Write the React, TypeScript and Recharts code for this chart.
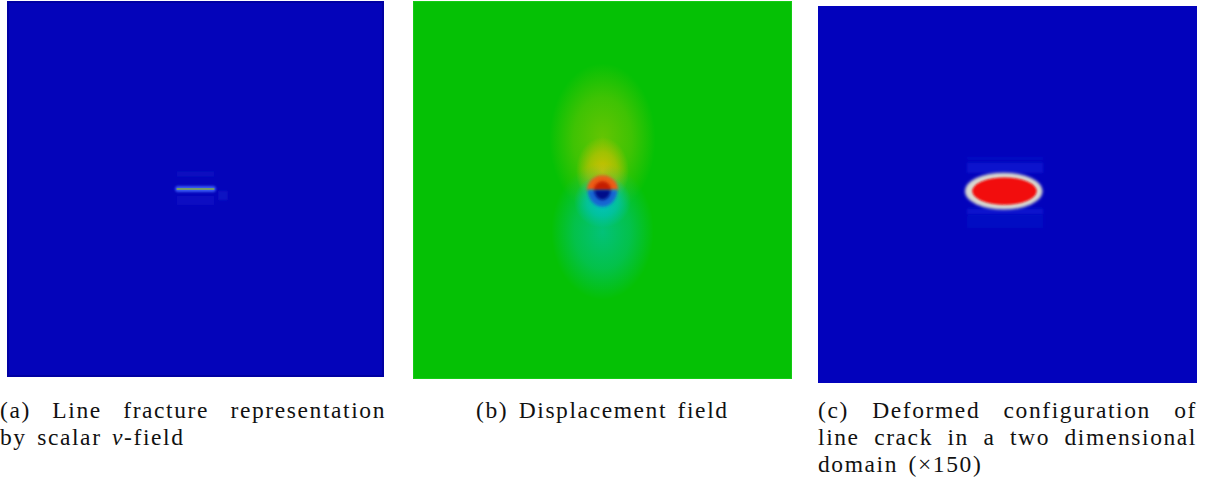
import React from 'react';
import { ComposedChart, XAxis, YAxis, ReferenceArea, ReferenceLine } from 'recharts';

// ---------- field data (domain is [-1, 1] x [-1, 1], crack centred at the origin) ----------

// (a) scalar phase field v around the line crack
const vBackground = 0;
const vCrack = { x1: -0.1, x2: 0.1, y: 0, core: 0.62, halo: 0.3 };
const vBands = [
  { x1: -0.1, x2: 0.1, y1: 0.065, y2: 0.095, v: 0.05 },
  { x1: -0.1, x2: 0.1, y1: -0.035, y2: -0.085, v: 0.06 },
  { x1: 0.12, x2: 0.17, y1: -0.01, y2: -0.06, v: 0.08 },
];

// (b) displacement field: smooth lobes above/below the crack and the two crack-face caps
const uBackground = 0.5;
const uLobes = [
  { cx: 0, cy: 0.4, rx: 0.52, ry: 0.64, v: 0.56, a: 0.9 },
  { cx: 0, cy: 0.27, rx: 0.28, ry: 0.4, v: 0.64, a: 0.85 },
  { cx: 0, cy: 0.1, rx: 0.14, ry: 0.18, v: 0.77, a: 0.95 },
  { cx: 0, cy: -0.4, rx: 0.5, ry: 0.62, v: 0.42, a: 0.9 },
  { cx: 0, cy: -0.22, rx: 0.27, ry: 0.36, v: 0.35, a: 0.85 },
  { cx: 0, cy: -0.06, rx: 0.15, ry: 0.14, v: 0.28, a: 0.95 },
];
const uCaps = [
  { side: 'top', rx: 0.082, ry: 0.078, v: 0.9, core: 1.0 },
  { side: 'bottom', rx: 0.078, ry: 0.088, v: 0.13, core: 0.0 },
];

// (c) deformed configuration, opening magnified x150
const dBackground = 0;
const dBands = [
  { x1: -0.213, x2: 0.188, y1: 0.186, y2: 0.198, v: 0.08 },
  { x1: -0.213, x2: 0.188, y1: 0.115, y2: 0.17, v: 0.12 },
  { x1: -0.213, x2: 0.188, y1: -0.075, y2: -0.105, v: 0.12 },
  { x1: -0.213, x2: 0.188, y1: -0.11, y2: -0.177, v: 0.05 },
];
const dOpening = [
  { cx: -0.02, cy: 0.018, rx: 0.205, ry: 0.098, v: 0.55 },
  { cx: -0.016, cy: 0.018, rx: 0.17, ry: 0.072, v: 1.0 },
];

// sub-figure captions (text between underscores is set in italics)
const captionA = ['(a) Line fracture representation', 'by scalar _v_-field'];
const captionB = ['(b) Displacement field'];
const captionC = ['(c) Deformed configuration of', 'line crack in a two dimensional', 'domain (\u00d7150)'];

// ---------- colour maps ----------
type Stop = [number, string];
const vMap: Stop[] = [[0, '#0404ba'], [0.3, '#3858f4'], [0.62, '#86b040'], [1, '#d8d020']];
const uMap: Stop[] = [
  [0, '#000a8a'], [0.13, '#1466d2'], [0.28, '#00c2cc'], [0.5, '#05c105'],
  [0.76, '#d6c800'], [0.9, '#ec5c14'], [1, '#c41c06'],
];
const dMap: Stop[] = [[0, '#0202bc'], [0.2, '#1838ec'], [0.55, '#d8d8d0'], [1, '#f20a0a']];

const rgb = (h: string) => [1, 3, 5].map((i) => parseInt(h.slice(i, i + 2), 16));
function colormap(stops: Stop[], value: number): string {
  const t = Math.max(0, Math.min(1, value));
  for (let i = 1; i < stops.length; i++) {
    if (t <= stops[i][0]) {
      const [t0, c0] = stops[i - 1];
      const [t1, c1] = stops[i];
      const f = (t - t0) / (t1 - t0 || 1);
      const a = rgb(c0);
      const b = rgb(c1);
      return `rgb(${a.map((x, k) => Math.round(x + (b[k] - x) * f)).join(',')})`;
    }
  }
  return stops[stops.length - 1][1];
}

// ---------- shapes ----------
const ellipseShape = (fill: string, filter?: string) => (p: any) => (
  <ellipse
    cx={p.x + p.width / 2}
    cy={p.y + p.height / 2}
    rx={p.width / 2}
    ry={p.height / 2}
    fill={fill}
    filter={filter}
  />
);

const halfShape = (side: string, fill: string, filter?: string) => (p: any) => {
  const r = p.width / 2;
  const d =
    side === 'top'
      ? `M${p.x},${p.y + p.height} A${r},${p.height} 0 0 1 ${p.x + p.width},${p.y + p.height} Z`
      : `M${p.x},${p.y} A${r},${p.height} 0 0 0 ${p.x + p.width},${p.y} Z`;
  return <path d={d} fill={fill} filter={filter} />;
};

const rectShape = (fill: string, opacity: number, filter?: string, stroke?: string, sw?: number) => (p: any) => (
  <rect x={p.x} y={p.y} width={p.width} height={p.height} fill={fill} fillOpacity={opacity}
    filter={filter} stroke={stroke || 'none'} strokeWidth={sw || 0} />
);

const roundRectShape = (fill: string, filter?: string) => (p: any) => (
  <rect x={p.x} y={p.y} width={p.width} height={p.height} rx={p.height / 2} fill={fill} filter={filter} />
);

function Frame({ left, top, width, height, children }: any) {
  return (
    <div style={{ position: 'absolute', left, top, width, height }}>
      <ComposedChart width={width} height={height} margin={{ top: 0, right: 0, bottom: 0, left: 0 }}>
        <XAxis type="number" dataKey="x" domain={[-1, 1]} allowDataOverflow hide />
        <YAxis type="number" dataKey="y" domain={[-1, 1]} allowDataOverflow hide />
        {children}
      </ComposedChart>
    </div>
  );
}

function Caption({ left, width, lines }: { left: number; width?: number; lines: string[] }) {
  return (
    <div
      style={{
        position: 'absolute', left, top: 397, width,
        fontFamily: '"Liberation Serif", "Times New Roman", serif', fontSize: 23.5,
        letterSpacing: 1.6, wordSpacing: 3, lineHeight: '27px', color: '#111', whiteSpace: 'nowrap',
      }}
    >
      {lines.map((line, i) => (
        <div
          key={i}
          style={
            i < lines.length - 1
              ? { textAlign: 'justify', textAlignLast: 'justify', whiteSpace: 'normal', height: 27 }
              : { textAlign: 'left', height: 27 }
          }
        >
          {line.split('_').map((s, k) => (k % 2 ? <i key={k}>{s}</i> : <span key={k}>{s}</span>))}
        </div>
      ))}
    </div>
  );
}

export default function App() {
  return (
    <div style={{ position: 'absolute', left: 0, top: 0, width: 1213, height: 494, background: '#fff' }}>
      {/* (a) phase field */}
      <Frame left={7} top={1} width={377} height={376}>
        <defs>
          <filter id="a-soft" x="-50%" y="-50%" width="200%" height="200%">
            <feGaussianBlur stdDeviation="1.2" />
          </filter>
        </defs>
        <ReferenceArea x1={-1} x2={1} y1={-1} y2={1}
          shape={rectShape(colormap(vMap, vBackground), 1, undefined, '#0000a2', 4)} />
        {vBands.map((b, i) => (
          <ReferenceArea key={`vb${i}`} x1={b.x1} x2={b.x2} y1={b.y1} y2={b.y2}
            shape={rectShape(colormap(vMap, b.v), 0.6, 'url(#a-soft)')} />
        ))}
        <ReferenceArea x1={vCrack.x1 - 0.008} x2={vCrack.x2 + 0.008} y1={vCrack.y - 0.016} y2={vCrack.y + 0.016}
          shape={roundRectShape(colormap(vMap, vCrack.halo), 'url(#a-soft)')} />
        <ReferenceLine
          segment={[{ x: vCrack.x1, y: vCrack.y }, { x: vCrack.x2, y: vCrack.y }]}
          stroke={colormap(vMap, vCrack.core)} strokeWidth={1.6} ifOverflow="visible"
        />
      </Frame>

      {/* (b) displacement field */}
      <Frame left={413} top={1} width={379} height={378}>
        <defs>
          <filter id="b-soft" x="-50%" y="-50%" width="200%" height="200%">
            <feGaussianBlur stdDeviation="1.5" />
          </filter>
          {uLobes.map((l, i) => {
            const c = colormap(uMap, l.v);
            return (
              <radialGradient key={i} id={`b-lobe-${i}`}>
                <stop offset="0" stopColor={c} stopOpacity={l.a} />
                <stop offset="0.55" stopColor={c} stopOpacity={l.a * 0.6} />
                <stop offset="1" stopColor={c} stopOpacity={0} />
              </radialGradient>
            );
          })}
        </defs>
        <ReferenceArea x1={-1} x2={1} y1={-1} y2={1}
          shape={rectShape(colormap(uMap, uBackground), 1, undefined, '#14cc14', 2)} />
        {uLobes.map((l, i) => (
          <ReferenceArea key={`ul${i}`} x1={l.cx - l.rx} x2={l.cx + l.rx} y1={l.cy - l.ry} y2={l.cy + l.ry}
            shape={ellipseShape(`url(#b-lobe-${i})`)} />
        ))}
        {uCaps.map((c, i) => (
          <ReferenceArea key={`uc${i}`} x1={-c.rx} x2={c.rx}
            y1={c.side === 'top' ? 0 : -c.ry} y2={c.side === 'top' ? c.ry : 0}
            shape={halfShape(c.side, colormap(uMap, c.v), 'url(#b-soft)')} />
        ))}
        {uCaps.map((c, i) => (
          <ReferenceArea key={`ucc${i}`} x1={-c.rx * 0.55} x2={c.rx * 0.55}
            y1={c.side === 'top' ? 0 : -c.ry * 0.6} y2={c.side === 'top' ? c.ry * 0.6 : 0}
            shape={halfShape(c.side, colormap(uMap, c.core), 'url(#b-soft)')} />
        ))}
      </Frame>

      {/* (c) deformed configuration */}
      <Frame left={818} top={6} width={379} height={377}>
        <defs>
          <filter id="c-soft" x="-50%" y="-50%" width="200%" height="200%">
            <feGaussianBlur stdDeviation="1.4" />
          </filter>
          <filter id="c-soft2" x="-50%" y="-50%" width="200%" height="200%">
            <feGaussianBlur stdDeviation="0.8" />
          </filter>
        </defs>
        <ReferenceArea x1={-1} x2={1} y1={-1} y2={1}
          shape={rectShape(colormap(dMap, dBackground), 1)} />
        {dBands.map((b, i) => (
          <ReferenceArea key={`db${i}`} x1={b.x1} x2={b.x2} y1={b.y1} y2={b.y2}
            shape={rectShape(colormap(dMap, b.v), 0.6, 'url(#c-soft)')} />
        ))}
        {dOpening.map((e, i) => (
          <ReferenceArea key={`do${i}`} x1={e.cx - e.rx} x2={e.cx + e.rx} y1={e.cy - e.ry} y2={e.cy + e.ry}
            shape={ellipseShape(colormap(dMap, e.v), i === 0 ? 'url(#c-soft)' : 'url(#c-soft2)')} />
        ))}
      </Frame>

      <Caption left={0} width={386} lines={captionA} />
      <Caption left={476} lines={captionB} />
      <Caption left={818} width={379} lines={captionC} />
    </div>
  );
}
